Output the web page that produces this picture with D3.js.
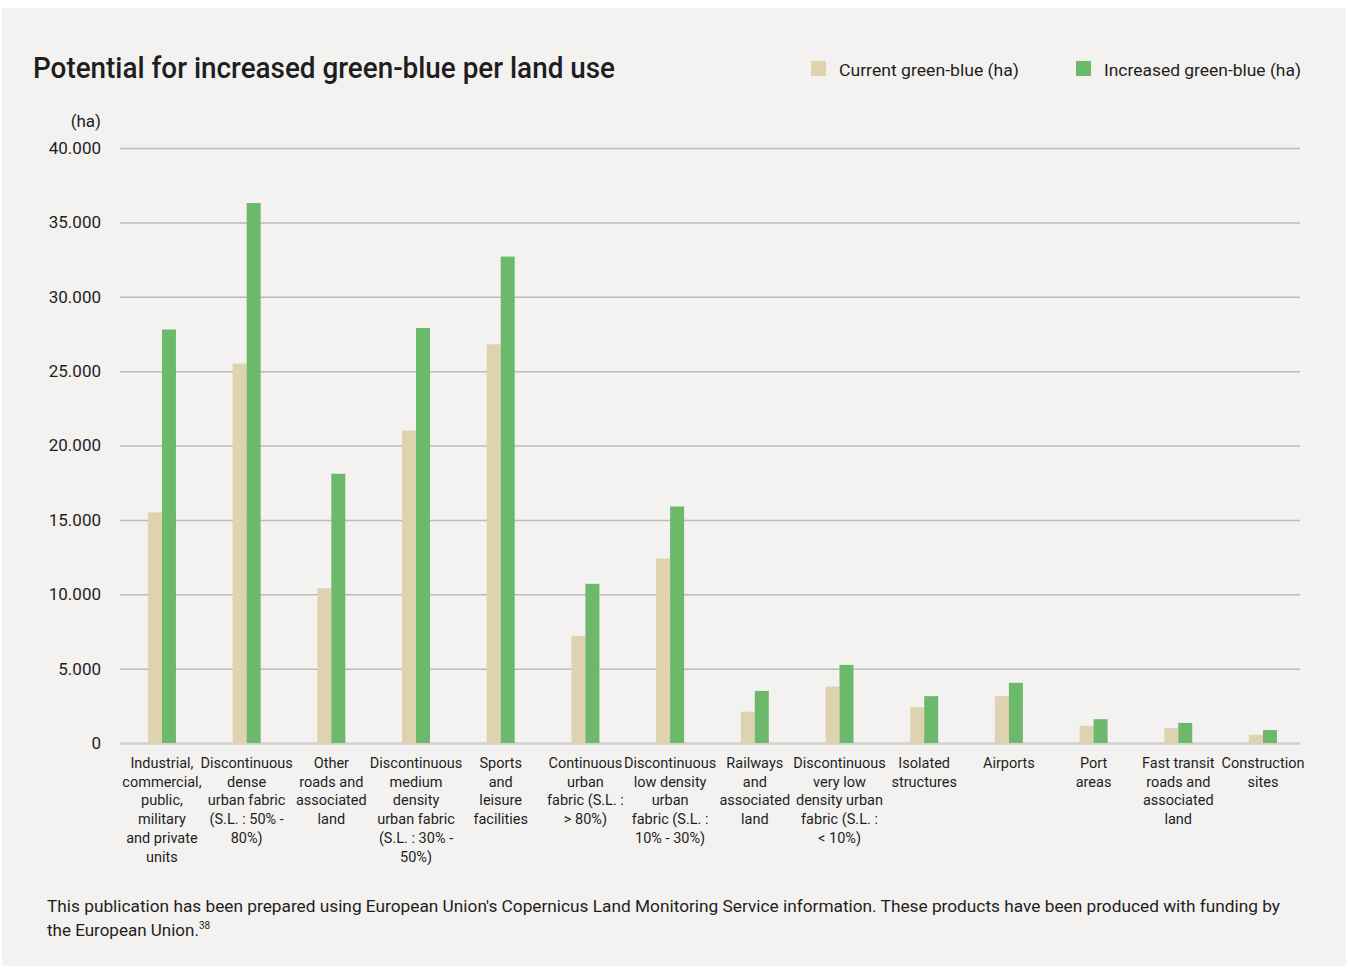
<!DOCTYPE html>
<html>
<head>
<meta charset="utf-8">
<script src="https://cdn.jsdelivr.net/npm/d3@7"></script>
<style>
  html, body { margin: 0; padding: 0; background: #ffffff; }
  svg { display: block; }
  text { font-family: Roboto, "Noto Sans", sans-serif; fill: #1e1e1e; }
</style>
</head>
<body>
<svg id="chart" width="1348" height="968"></svg>
<script>
// ---- data ----
const categories = [
  "Industrial,\ncommercial,\npublic,\nmilitary\nand private\nunits",
  "Discontinuous\ndense\nurban fabric\n(S.L. : 50% -\n80%)",
  "Other\nroads and\nassociated\nland",
  "Discontinuous\nmedium\ndensity\nurban fabric\n(S.L. : 30% -\n50%)",
  "Sports\nand\nleisure\nfacilities",
  "Continuous\nurban\nfabric (S.L. :\n> 80%)",
  "Discontinuous\nlow density\nurban\nfabric (S.L. :\n10% - 30%)",
  "Railways\nand\nassociated\nland",
  "Discontinuous\nvery low\ndensity urban\nfabric (S.L. :\n< 10%)",
  "Isolated\nstructures",
  "Airports",
  "Port\nareas",
  "Fast transit\nroads and\nassociated\nland",
  "Construction\nsites"
];
const currentValues  = [15500, 25500, 10400, 21000, 26800, 7200, 12400, 2100, 3800, 2400, 3150, 1150, 1000, 550];
const increasedValues = [27800, 36300, 18100, 27900, 32700, 10700, 15900, 3500, 5250, 3150, 4050, 1600, 1350, 870];
const seriesNames = ["Current green-blue (ha)", "Increased green-blue (ha)"];
const yTicks = [0, 5000, 10000, 15000, 20000, 25000, 30000, 35000, 40000];
const titleText = "Potential for increased green-blue per land use";
const unitLabel = "(ha)";
const footerLine1 = "This publication has been prepared using European Union's Copernicus Land Monitoring Service information. These products have been produced with funding by";
const footerLine2 = "the European Union.";
const footerSup = "38";

// ---- styles ----
const colors = ["#ded2af", "#6db96b"];
const svg = d3.select("#chart");

svg.append("rect").attr("x", 2).attr("y", 8).attr("width", 1344).attr("height", 958).attr("fill", "#f3f2f0");

const margin = { left: 120, right: 1300, top: 148, bottom: 743 };

const x = d3.scaleBand().domain(d3.range(categories.length)).range([119.6, 1305.3]).padding(0);
const y = d3.scaleLinear().domain([0, 40000]).range([margin.bottom, margin.top]);

const locale = d3.formatLocale({ decimal: ",", thousands: ".", grouping: [3], currency: ["", ""] });
const fmt = locale.format(",d");

// gridlines
const yAxis = d3.axisLeft(y).tickValues(yTicks).tickSize(-(margin.right - margin.left)).tickFormat(fmt).tickPadding(19);
const gy = svg.append("g").attr("transform", `translate(${margin.left},0)`).call(yAxis);
gy.select(".domain").remove();
gy.selectAll(".tick line").attr("stroke", "#bdbbb8").attr("stroke-width", 1.5);
gy.selectAll(".tick").filter(d => d === 0).select("line").attr("stroke", "#d3d1ce").attr("stroke-width", 2.5);
gy.selectAll(".tick text").attr("font-size", 17).attr("fill", "#1e1e1e").attr("font-family", "Roboto, sans-serif").attr("font-weight", 400);

svg.append("text").attr("x", 101).attr("y", 127).attr("text-anchor", "end").attr("font-size", 17).text(unitLabel);

// bars
const barW = 14;
const groups = svg.append("g");
categories.forEach((c, i) => {
  const cx = x(i) + x.bandwidth() / 2;
  [currentValues[i], increasedValues[i]].forEach((v, s) => {
    groups.append("rect")
      .attr("x", cx - barW + s * barW)
      .attr("y", y(v))
      .attr("width", barW)
      .attr("height", y(0) - y(v))
      .attr("fill", colors[s]);
  });
});

// x labels
const xl = svg.append("g");
categories.forEach((c, i) => {
  const cx = x(i) + x.bandwidth() / 2;
  const t = xl.append("text").attr("text-anchor", "middle").attr("font-size", 14.5);
  c.split("\n").forEach((line, k) => {
    t.append("tspan").attr("x", cx).attr("y", 768 + k * 18.7).text(line);
  });
});

// title
svg.append("text").attr("x", 33).attr("y", 78).attr("font-size", 30).attr("font-weight", 500)
  .attr("textLength", 582).attr("lengthAdjust", "spacingAndGlyphs").text(titleText);

// legend
const legendItems = [{ x: 811, tx: 839, w: 180 }, { x: 1076, tx: 1104, w: 197 }];
legendItems.forEach((li, s) => {
  svg.append("rect").attr("x", li.x).attr("y", 61).attr("width", 15).attr("height", 15).attr("fill", colors[s]);
  svg.append("text").attr("x", li.tx).attr("y", 76).attr("font-size", 17)
    .attr("textLength", li.w).attr("lengthAdjust", "spacingAndGlyphs").text(seriesNames[s]);
});

// footer
svg.append("text").attr("x", 47).attr("y", 912).attr("font-size", 17)
  .attr("textLength", 1233).attr("lengthAdjust", "spacingAndGlyphs").text(footerLine1);
const f2 = svg.append("text").attr("x", 47).attr("y", 936).attr("font-size", 17);
f2.append("tspan").text(footerLine2);
f2.append("tspan").attr("font-size", 10).attr("dy", -7).text(footerSup);
</script>
</body>
</html>
